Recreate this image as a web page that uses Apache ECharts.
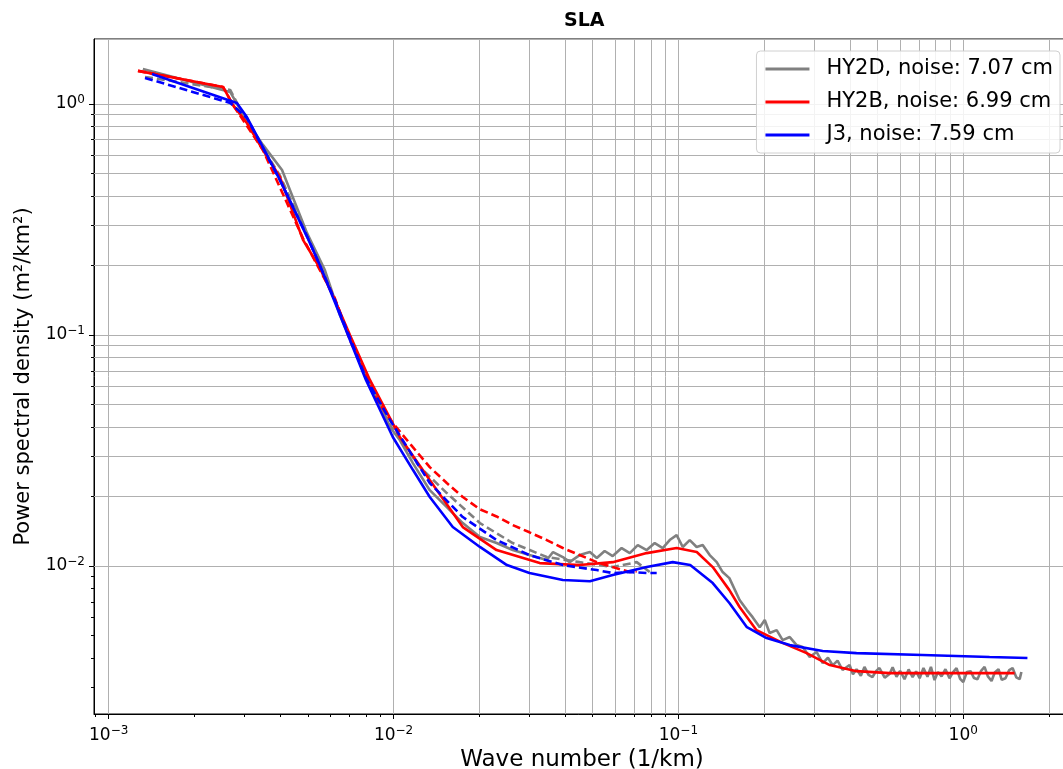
<!DOCTYPE html>
<html>
<head>
<meta charset="utf-8">
<title>SLA</title>
<script src="https://cdn.jsdelivr.net/npm/echarts@6/dist/echarts.min.js"></script>
<style>
html, body { margin: 0; padding: 0; background: #fff; }
#chart { width: 1063px; height: 769px; }
</style>
</head>
<body>
<div id="chart"></div>
<script>
'use strict';

// axis extents
var xRange = [8.88e-4, 2.37];
var yRange = [2.29e-3, 1.91];

var legendNames = ['HY2D, noise: 7.07 cm', 'HY2B, noise: 6.99 cm', 'J3, noise: 7.59 cm'];

// [wave number (1/km), PSD (m2/km2)]
var hy2dSolid = [
	[1.318e-3,1.417],[2.67e-3,1.127],[2.82e-3,1.0],[3.06e-3,0.84],[3.48e-3,0.665],[4.06e-3,0.518],
	[4.97e-3,0.276],[5.74e-3,0.191],[6.48e-3,0.122],[7.31e-3,0.0861],[8.39e-3,0.0607],[9.71e-3,0.040],
	[1.052e-2,0.0351],[1.169e-2,0.0279],[1.34e-2,0.0213],[1.538e-2,0.0180],[1.75e-2,0.01535],[2.01e-2,0.01335],
	[2.30e-2,0.01258],[2.62e-2,0.01173],[3.0e-2,0.01116],[3.45e-2,0.01062],[3.63e-2,0.0115],[3.93e-2,0.01094],
	[4.15e-2,0.0104],[4.5e-2,0.01116],[4.89e-2,0.0115],[5.17e-2,0.01083],[5.51e-2,0.01162],[5.88e-2,0.01105],
	[6.32e-2,0.01197],[6.75e-2,0.01138],[7.2e-2,0.01233],[7.74e-2,0.01173],[8.26e-2,0.01258],[8.81e-2,0.01197],
	[9.32e-2,0.01296],[9.86e-2,0.01362],[0.1036,0.01209],[0.1096,0.01296],[0.1159,0.01209],[0.1217,0.01233],
	[0.1288,0.01116],[0.1363,0.0104],[0.143,0.00942],[0.151,0.00887],[0.164,0.00713],[0.174,0.00645],
	[0.1822,0.00601],[0.193,0.00544],[0.201,0.00584],[0.209,0.00513],[0.2213,0.00528],[0.2323,0.00478],
	[0.246,0.00493],[0.260,0.00455],[0.273,0.00446],[0.289,0.00404],[0.3055,0.00425],[0.321,0.0038],
	[0.335,0.00401],[0.348,0.00372],[0.362,0.0039],[0.377,0.00355],[0.399,0.00373],[0.41,0.0034],
	[0.422,0.00358],[0.437,0.00335],[0.45,0.00366],[0.465,0.00338],[0.48,0.00331],[0.495,0.00352],
	[0.508,0.00362],[0.53,0.00329],[0.551,0.00341],[0.565,0.00365],[0.583,0.00332],[0.60,0.00352],
	[0.622,0.00324],[0.643,0.00357],[0.664,0.00331],[0.683,0.0035],[0.703,0.00327],[0.725,0.00362],
	[0.749,0.00332],[0.77,0.00366],[0.793,0.00321],[0.815,0.00348],[0.839,0.00333],[0.866,0.00358],
	[0.895,0.00327],[0.92,0.00347],[0.947,0.00362],[0.975,0.00325],[1.0,0.00315],[1.03,0.00348],
	[1.061,0.00351],[1.09,0.00328],[1.122,0.00324],[1.155,0.00352],[1.188,0.00366],[1.22,0.00333],
	[1.257,0.00318],[1.29,0.00346],[1.33,0.00358],[1.365,0.00322],[1.407,0.00327],[1.45,0.00355],
	[1.49,0.00362],[1.535,0.0033],[1.578,0.00324],[1.60,0.00348]
];
var hy2dDashed = [
	[1.341e-3,1.309],[2.67e-3,1.15],[3.055e-3,0.836],[3.99e-3,0.49],[4.97e-3,0.27],[6.22e-3,0.142],
	[8.0e-3,0.0651],[9.71e-3,0.0408],[1.237e-2,0.0268],[1.538e-2,0.0207],[2.01e-2,0.01535],[2.62e-2,0.01258],
	[3.45e-2,0.01094],[4.5e-2,0.0104],[5.88e-2,0.0099],[7.14e-2,0.0104],[7.93e-2,0.00942]
];
var hy2bSolid = [
	[1.267e-3,1.39],[2.52e-3,1.185],[2.73e-3,0.99],[3.055e-3,0.827],[3.48e-3,0.632],[3.99e-3,0.483],
	[4.81e-3,0.258],[5.51e-3,0.195],[6.22e-3,0.1418],[7.03e-3,0.100],[8.26e-3,0.0639],[1.052e-2,0.0362],
	[1.34e-2,0.02357],[1.75e-2,0.01475],[2.30e-2,0.01173],[3.26e-2,0.0103],[4.5e-2,0.0101],[5.88e-2,0.0104],
	[7.74e-2,0.01138],[9.86e-2,0.01197],[0.116,0.0115],[0.132,0.0099],[0.151,0.00787],[0.164,0.00665],
	[0.188,0.00528],[0.232,0.00465],[0.282,0.0042],[0.34,0.00373],[0.422,0.00351],[0.551,0.00344],
	[0.947,0.00344],[1.514,0.00344]
];
var hy2bDashed = [
	[1.267e-3,1.39],[2.52e-3,1.185],[2.73e-3,0.99],[3.48e-3,0.632],[4.81e-3,0.262],[6.22e-3,0.1445],
	[7.03e-3,0.0951],[8.74e-3,0.0523],[9.94e-3,0.0416],[1.169e-2,0.0327],[1.34e-2,0.0268],[1.538e-2,0.02287],
	[1.75e-2,0.0199],[2.01e-2,0.0176],[2.30e-2,0.0164],[2.62e-2,0.01505],[3.0e-2,0.0140],[3.45e-2,0.01296],
	[3.93e-2,0.01197],[4.5e-2,0.01116],[5.17e-2,0.0104],[5.88e-2,0.0099],[6.75e-2,0.00942],[7.14e-2,0.0095]
];
var j3Solid = [
	[1.419e-3,1.349],[2.818e-3,1.01],[3.055e-3,0.878],[3.478e-3,0.651],[3.99e-3,0.469],[4.97e-3,0.266],
	[5.51e-3,0.201],[6.22e-3,0.139],[7.03e-3,0.0951],[8.0e-3,0.0639],[9.94e-3,0.0362],[1.169e-2,0.0261],
	[1.34e-2,0.0199],[1.614e-2,0.01475],[2.01e-2,0.0121],[2.50e-2,0.0101],[3.0e-2,0.00933],[3.93e-2,0.0087],
	[4.89e-2,0.0086],[5.88e-2,0.00914],[7.74e-2,0.0099],[9.55e-2,0.0104],[0.110,0.0101],[0.132,0.00844],
	[0.151,0.00692],[0.174,0.00544],[0.204,0.00488],[0.246,0.00455],[0.321,0.00429],[0.422,0.0042],
	[0.72,0.00412],[1.237,0.00404],[1.68,0.0040]
];
var j3Dashed = [
	[1.341e-3,1.296],[2.67e-3,1.01],[3.055e-3,0.870],[3.99e-3,0.469],[4.97e-3,0.268],[6.22e-3,0.142],
	[8.0e-3,0.0651],[9.71e-3,0.0429],[1.34e-2,0.02287],[1.75e-2,0.0163],[2.30e-2,0.01296],[3.0e-2,0.01116],
	[3.93e-2,0.0101],[5.17e-2,0.00961],[5.88e-2,0.00933],[6.75e-2,0.00942],[7.74e-2,0.00933],[8.39e-2,0.00933]
];

var FONT = 'DejaVu Sans';
var GRID_COLOR = '#b0b0b0';

// minor tick values, 2..9 x each decade
function minorValues(range) {
	var out = [];
	for (var d = -4; d <= 1; d++) {
		for (var k = 2; k <= 9; k++) {
			var v = k * Math.pow(10, d);
			if (v > range[0] && v < range[1]) out.push(v);
		}
	}
	return out;
}
var xMinor = minorValues(xRange);
var yMinor = minorValues(yRange);

function powLabel(v) {
	var e = Math.log10(v);
	var r = Math.round(e);
	if (Math.abs(e - r) > 1e-6) return '';
	return '{b|10}{s|' + (r < 0 ? '\u2212' + (-r) : r) + '}';
}

var labelRich = {
	b: { fontFamily: FONT, fontSize: 17, color: '#000' },
	s: { fontFamily: FONT, fontSize: 12, color: '#000', padding: [0, 0, 9, 0] }
};

function mainAxis(type, range, name, nameGap, nameSize, margin) {
	return {
		type: 'log',
		logBase: 10,
		min: range[0],
		max: range[1],
		name: name,
		nameLocation: 'middle',
		nameGap: nameGap,
		nameTextStyle: { fontFamily: FONT, fontSize: nameSize, color: '#000' },
		axisLine: { show: true, lineStyle: { color: '#000', width: 1 } },
		axisTick: { show: true, inside: false, length: 5, lineStyle: { color: '#000' } },
		axisLabel: { formatter: powLabel, margin: margin, rich: labelRich, showMinLabel: false, showMaxLabel: false },
		splitLine: { show: true, lineStyle: { color: GRID_COLOR, width: 1 } }
	};
}

// overlaid axis that only carries the short minor ticks
function minorAxis(range, position, values) {
	return {
		type: 'log',
		logBase: 10,
		min: range[0],
		max: range[1],
		position: position,
		offset: 0,
		axisLine: { show: false },
		axisLabel: { show: false },
		splitLine: { show: false },
		axisTick: { show: true, inside: false, length: 3, customValues: values, lineStyle: { color: '#000' } }
	};
}

function lineSeries(name, data, color, dashed) {
	return {
		name: name,
		type: 'line',
		data: data,
		symbol: 'none',
		showSymbol: false,
		silent: true,
		emphasis: { disabled: true },
		lineStyle: { color: color, width: 2.6, type: dashed ? [8, 4] : 'solid' },
		itemStyle: { color: color }
	};
}

var minorGrid = xMinor.map(function(v) { return { xAxis: v }; })
	.concat(yMinor.map(function(v) { return { yAxis: v }; }));

var chart = echarts.init(document.getElementById('chart'));
chart.setOption({
	animation: false,
	backgroundColor: '#fff',
	title: {
		text: 'SLA',
		left: 564,
		top: 12,
		padding: 0,
		textStyle: { fontFamily: FONT, fontSize: 19, fontWeight: 'bold', color: '#000' }
	},
	legend: {
		data: legendNames,
		orient: 'vertical',
		right: 3,
		top: 51,
		z: 10,
		icon: 'rect',
		itemWidth: 44,
		itemHeight: 3,
		itemGap: 9,
		padding: [6, 7, 6, 9],
		backgroundColor: 'rgba(255,255,255,0.85)',
		borderColor: '#d0d0d0',
		borderWidth: 1,
		borderRadius: 4,
		selectedMode: false,
		textStyle: { fontFamily: FONT, fontSize: 21, color: '#000', lineHeight: 24, padding: [0, 0, 0, 12] }
	},
	grid: {
		left: 94,
		right: -7,
		top: 39,
		bottom: 55,
		outerBoundsMode: 'none',
		containLabel: false,
		show: true,
		borderColor: '#000',
		borderWidth: 1
	},
	xAxis: [
		mainAxis('x', xRange, 'Wave number (1/km)', 33, 23, 11),
		minorAxis(xRange, 'bottom', xMinor)
	],
	yAxis: [
		mainAxis('y', yRange, 'Power spectral density (m\u00b2/km\u00b2)', 60, 21, 9),
		minorAxis(yRange, 'left', yMinor)
	],
	series: [
		{
			name: 'minor grid',
			type: 'line',
			data: [],
			silent: true,
			z: 1,
			markLine: {
				silent: true,
				z: 1,
				symbol: 'none',
				animation: false,
				label: { show: false },
				emphasis: { disabled: true },
				lineStyle: { color: GRID_COLOR, width: 1, type: 'solid' },
				data: minorGrid
			}
		},
		lineSeries(legendNames[0], hy2dSolid, '#808080', false),
		lineSeries('HY2D dashed', hy2dDashed, '#808080', true),
		lineSeries(legendNames[1], hy2bSolid, '#ff0000', false),
		lineSeries('HY2B dashed', hy2bDashed, '#ff0000', true),
		lineSeries(legendNames[2], j3Solid, '#0000ff', false),
		lineSeries('J3 dashed', j3Dashed, '#0000ff', true)
	]
});
</script>
</body>
</html>
